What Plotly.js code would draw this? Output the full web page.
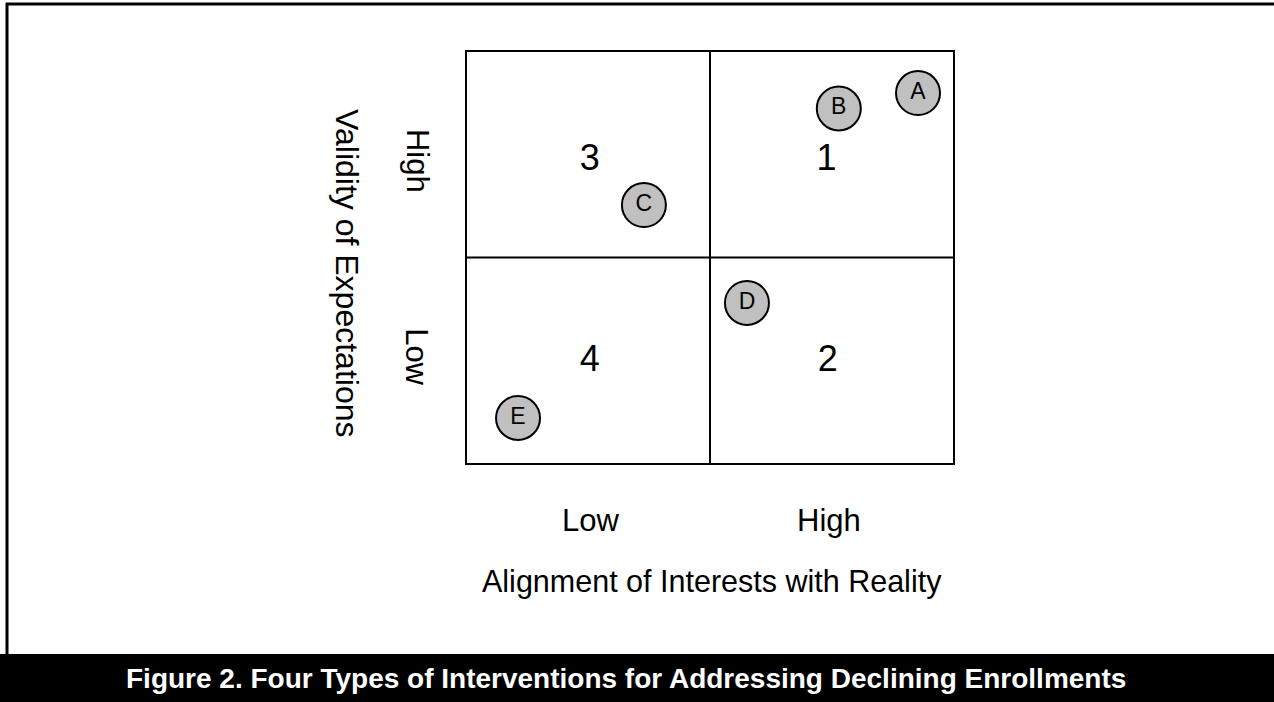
<!DOCTYPE html>
<html>
<head>
<meta charset="utf-8">
<script src="https://cdn.plot.ly/plotly-3.0.1.min.js"></script>
<style>
html,body{margin:0;padding:0;background:#fff;}
#chart{width:1274px;height:702px;}
</style>
</head>
<body>
<div id="chart"></div>
<script>
// ---- data ----
const pointLabels = ['A', 'B', 'C', 'D', 'E'];
const alignmentValues = [1.856, 1.53, 0.728, 1.152, 0.21];   // x: Alignment of Interests with Reality (0-2)
const validityValues  = [1.80, 1.725, 1.255, 0.779, 0.219]; // y: Validity of Expectations (0-2)

const quadrantNumbers = ['1', '2', '3', '4'];
const quadrantX = [1.48, 1.485, 0.505, 0.505];
const quadrantY = [1.47, 0.49, 1.47, 0.49];

const xTickValues = [0.51, 1.49];
const xTickLabels = ['Low', 'High'];
const yTickValues = [1.47, 0.52];
const yTickLabels = ['High', 'Low'];

const xTitle = 'Alignment of Interests with Reality';
const yTitle = 'Validity of Expectations';
const caption = 'Figure 2. Four Types of Interventions for Addressing Declining Enrollments';

// ---- layout helpers ----
const W = 1274, H = 702;
const L = 467, R = 953, T = 52, B = 463;
const px2x = p => (p - L) / (R - L);
const px2y = p => (B - p) / (B - T);
const FONT = 'Arial, "Liberation Sans", Helvetica, sans-serif';

const traces = [
  {
    type: 'scatter', mode: 'text',
    x: quadrantX, y: quadrantY, text: quadrantNumbers,
    textposition: 'middle center',
    textfont: {family: FONT, size: 36, color: '#000'},
    hoverinfo: 'skip', showlegend: false, cliponaxis: false
  },
  {
    type: 'scatter', mode: 'markers+text',
    x: alignmentValues, y: validityValues, text: pointLabels,
    textposition: 'middle center',
    textfont: {family: FONT, size: 23, color: '#000'},
    marker: {size: 44, color: '#c0c0c0', line: {color: '#000', width: 2}},
    showlegend: false, cliponaxis: false
  }
];

const annotations = [];
xTickLabels.forEach((t, i) => annotations.push({
  text: t, xref: 'x', yref: 'paper', x: xTickValues[i], y: px2y(520),
  xanchor: 'center', yanchor: 'middle', showarrow: false,
  font: {family: FONT, size: 31, color: '#000'}
}));
yTickLabels.forEach((t, i) => annotations.push({
  text: t, xref: 'paper', yref: 'y', x: px2x(417), y: yTickValues[i],
  xanchor: 'center', yanchor: 'middle', showarrow: false, textangle: 90,
  font: {family: FONT, size: 31, color: '#000'}
}));
annotations.push({
  text: xTitle, xref: 'paper', yref: 'paper', x: px2x(712), y: px2y(581),
  xanchor: 'center', yanchor: 'middle', showarrow: false,
  font: {family: FONT, size: 30.5, color: '#000'}
});
annotations.push({
  text: yTitle, xref: 'paper', yref: 'paper', x: px2x(347), y: px2y(273),
  xanchor: 'center', yanchor: 'middle', showarrow: false, textangle: 90,
  font: {family: FONT, size: 32, color: '#000'}
});
annotations.push({
  text: '<b>' + caption + '</b>', xref: 'paper', yref: 'paper', x: px2x(626), y: px2y(678),
  xanchor: 'center', yanchor: 'middle', showarrow: false,
  font: {family: FONT, size: 28, color: '#fff'}
});

const shapes = [
  // quadrant dividers
  {type: 'line', xref: 'x', yref: 'paper', x0: 1, x1: 1, y0: 0, y1: 1, line: {color: '#000', width: 2}},
  {type: 'line', xref: 'paper', yref: 'y', x0: 0, x1: 1, y0: 1, y1: 1, line: {color: '#000', width: 2}},
  // outer frame
  {type: 'line', xref: 'paper', yref: 'paper', x0: px2x(6), x1: px2x(1274), y0: px2y(4), y1: px2y(4), line: {color: '#000', width: 3}},
  {type: 'line', xref: 'paper', yref: 'paper', x0: px2x(7), x1: px2x(7), y0: px2y(3), y1: px2y(655), line: {color: '#000', width: 3}},
  // caption bar
  {type: 'rect', xref: 'paper', yref: 'paper', x0: px2x(0), x1: px2x(1274), y0: px2y(654), y1: px2y(703), fillcolor: '#000', line: {width: 0}, layer: 'below'}
];

const layout = {
  width: W, height: H,
  margin: {l: L, r: W - R, t: T, b: H - B, pad: 0},
  paper_bgcolor: '#fff', plot_bgcolor: '#fff',
  xaxis: {range: [0, 2], showgrid: false, zeroline: false, showticklabels: false, ticks: '',
          showline: true, mirror: true, linecolor: '#000', linewidth: 2, fixedrange: true},
  yaxis: {range: [0, 2], showgrid: false, zeroline: false, showticklabels: false, ticks: '',
          showline: true, mirror: true, linecolor: '#000', linewidth: 2, fixedrange: true},
  shapes: shapes,
  annotations: annotations,
  showlegend: false,
  hovermode: false
};

Plotly.newPlot('chart', traces, layout, {displayModeBar: false, staticPlot: true});
</script>
</body>
</html>
